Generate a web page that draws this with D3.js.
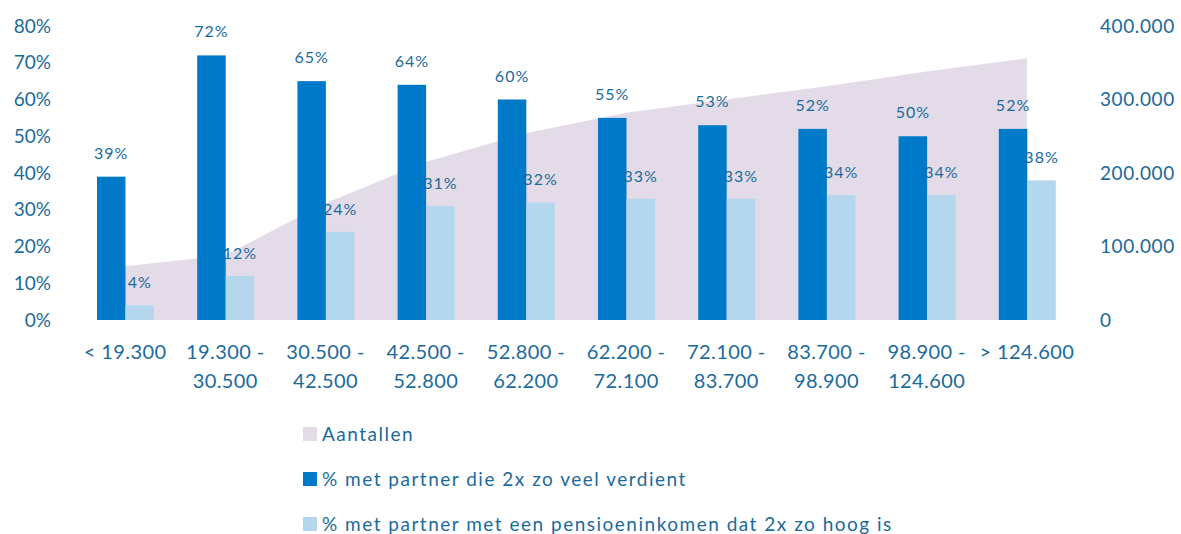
<!DOCTYPE html>
<html>
<head>
<meta charset="utf-8">
<script src="https://cdn.jsdelivr.net/npm/d3@7"></script>
<style>
body { margin:0; background:#fff; }
text { font-family: Lato, "Open Sans", sans-serif; fill:#1b6a9c; }
</style>
</head>
<body>
<script>
// Inkomensklassen
const categories = ["< 19.300", "19.300 - 30.500", "30.500 - 42.500", "42.500 - 52.800", "52.800 - 62.200",
  "62.200 - 72.100", "72.100 - 83.700", "83.700 - 98.900", "98.900 - 124.600", "> 124.600"];
const aantallen = [73000, 88000, 159000, 215000, 254000, 282000, 300000, 318000, 338000, 356000];
const verdient = [39, 72, 65, 64, 60, 55, 53, 52, 50, 52];
const pensioen = [4, 12, 24, 31, 32, 33, 33, 34, 34, 38];
const leftTicks = [0, 10, 20, 30, 40, 50, 60, 70, 80];
const rightTicks = [0, 100000, 200000, 300000, 400000];
const legendLabels = ["Aantallen", "% met partner die 2x zo veel verdient", "% met partner met een pensioeninkomen dat 2x zo hoog is"];

const width = 1181, height = 534;
const colors = ["#e3dce8", "#0079c8", "#b4d7ee"];

const svg = d3.select("body").append("svg")
  .attr("width", width).attr("height", height);

const x = d3.scaleBand().domain(categories).range([75, 1077]);
const x1 = d3.scaleBand().domain(["a", "b"]).range([22, 79]);
const y = d3.scaleLinear().domain([0, 80]).range([320, 26]);
const y2 = d3.scaleLinear().domain([0, 400000]).range([320, 26]);

// area (secondary axis)
const area = d3.area()
  .x(function(d, i){ return x(categories[i]) + x.bandwidth()/2; })
  .y0(y2(0))
  .y1(function(d){ return y2(d); });

svg.append("path")
  .datum(aantallen)
  .attr("d", area)
  .attr("fill", colors[0]);

// bars
const groups = svg.selectAll("g.cat")
  .data(categories)
  .enter().append("g")
  .attr("class", "cat")
  .attr("transform", function(d){ return "translate(" + x(d) + ",0)"; });

groups.append("rect")
  .attr("x", x1("a"))
  .attr("width", x1.bandwidth())
  .attr("y", function(d, i){ return y(verdient[i]); })
  .attr("height", function(d, i){ return y(0) - y(verdient[i]); })
  .attr("fill", colors[1]);

groups.append("rect")
  .attr("x", x1("b"))
  .attr("width", x1.bandwidth())
  .attr("y", function(d, i){ return y(pensioen[i]); })
  .attr("height", function(d, i){ return y(0) - y(pensioen[i]); })
  .attr("fill", colors[2]);

// data labels
groups.append("text")
  .attr("x", x1("a") + x1.bandwidth()/2)
  .attr("y", function(d, i){ return y(verdient[i]) - 18; })
  .attr("text-anchor", "middle")
  .attr("font-size", "16px")
  .attr("letter-spacing", "1px")
  .text(function(d, i){ return verdient[i] + "%"; });

groups.append("text")
  .attr("x", x1("b") + x1.bandwidth()/2)
  .attr("y", function(d, i){ return y(pensioen[i]) - 17; })
  .attr("text-anchor", "middle")
  .attr("font-size", "16px")
  .attr("letter-spacing", "1px")
  .text(function(d, i){ return pensioen[i] + "%"; });

// left axis
const yAxis = d3.axisLeft(y).tickValues(leftTicks).tickSize(0).tickPadding(0)
  .tickFormat(function(d){ return d + "%"; });
const gy = svg.append("g").attr("transform", "translate(51,0)").call(yAxis);
gy.select(".domain").remove();
gy.selectAll("text").attr("font-size", "19px").attr("fill", "#1b6a9c").attr("font-family", null);

// right axis
const y2Axis = d3.axisRight(y2).tickValues(rightTicks).tickSize(0).tickPadding(0)
  .tickFormat(function(d){ return d3.format(",")(d).replace(/,/g, "."); });
const gy2 = svg.append("g").attr("transform", "translate(1100,0)").call(y2Axis);
gy2.select(".domain").remove();
gy2.selectAll("text").attr("font-size", "19px").attr("letter-spacing", "0.6px")
  .attr("fill", "#1b6a9c").attr("font-family", null);

// x labels, split on " - "
const xl = svg.append("g");
categories.forEach(function(c){
  const parts = c.indexOf(" - ") > 0 ? [c.split(" - ")[0] + " -", c.split(" - ")[1]] : [c];
  const t = xl.append("text")
    .attr("x", x(c) + x.bandwidth()/2)
    .attr("y", 359)
    .attr("text-anchor", "middle")
    .attr("font-size", "20px")
    .attr("letter-spacing", "0.4px");
  parts.forEach(function(p, i){
    t.append("tspan")
      .attr("x", x(c) + x.bandwidth()/2)
      .attr("dy", i === 0 ? 0 : 29)
      .text(p);
  });
});

// legend
const legend = svg.append("g").attr("transform", "translate(303,427)");
legendLabels.forEach(function(l, i){
  legend.append("rect")
    .attr("x", 0).attr("y", i*45)
    .attr("width", 14).attr("height", 14)
    .attr("fill", colors[i]);
  legend.append("text")
    .attr("x", 19).attr("y", i*45 + 14)
    .attr("font-size", "19px")
    .attr("letter-spacing", "1.5px")
    .text(l);
});
</script>
</body>
</html>
